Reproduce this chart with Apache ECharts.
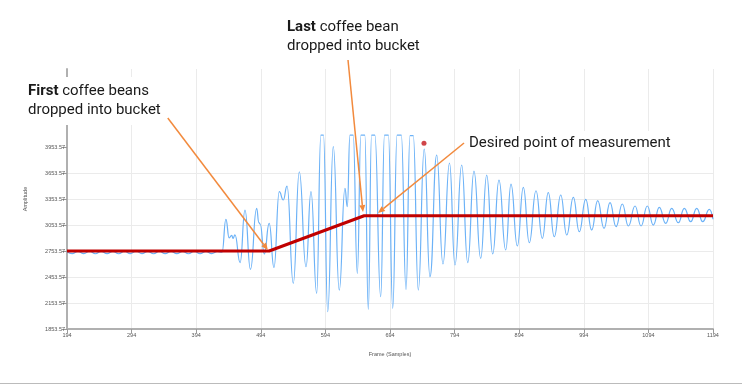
<!DOCTYPE html>
<html><head><meta charset="utf-8">
<script src="https://cdn.jsdelivr.net/npm/echarts@6/dist/echarts.min.js"></script>
<style>html,body{margin:0;padding:0;background:#fff}#c{width:742px;height:384px}</style>
</head><body><div id="c"></div>
<script>
// Raw signal: frame positions of readable extrema and their amplitudes
const frames = [
  194,202,211,220,229,238,247,256,265,274,283,292,301,310,319,328,337,346,355,364,373,382,391,400,409,418,427,434,
  440,445,449,451,454,462,469.5,478,487.6,491,493,499.4,507,514.4,522.6,528.8,534.6,544.3,553.6,564,571.7,580.5,
  587,591,597.6,606.2,615.5,624.3,627.9,632,637,643.4,649,655,660.4,665.5,670.5,679.6,685.5,691.5,698.2,705,711.5,
  718.8,725,730,737.8,747,755.9,766.3,776,786.1,794.6,805,814.3,824,834.4,843.7,853,862.7,873.1,881.3,891.1,900.4,
  909.6,920,929.8,939,948.3,958.3,967.6,977.8,987,997,1006.2,1015.5,1025.3,1034.6,1043.9,1053.6,1063,1073.3,1082.6,
  1092.3,1101.6,1110.9,1120.8,1130.1,1140.3,1149.6,1159.5,1168.8,1178.1,1188.3,1194
];
const amplitudes = [
  2745,2724,2750,2723,2752,2722,2750,2724,2749,2722,2751,2723,2752,2724,2750,2722,2751,2723,2750,2724,2749,2722,2751,2723,2750,2724,2748,2740,
  3119,2905,2935,2900,2940,2620,3226,2542,3246,3080,3065,2719,3073,2563,3438,3342,3503,2381,3668,2572,3438,2265,
  4090,4090,2053,3957,2303,3477,3265,4090,4090,2496,4090,4090,2081,4090,4090,2226,4090,4090,2092,4090,4090,
  2311,4085,4085,2303,3930,2457,3861,2604,3769,2592,3746,2619,3676,2669,3630,2719,3572,2765,3526,2811,3488,
  2849,3449,2900,3426,2918,3400,2938,3373,2976,3350,2996,3334,3015,3311,3034,3296,3042,3273,3042,
  3273,3053,3258,3073,3246,3080,3246,3092,3246,3092,3234,3120
];
// Estimated baseline (red) line
const baselineFrames = [194, 507, 654, 1194];
const baselineValues = [2753.57, 2753.57, 3160, 3160];
// Measurement marker
const markerFrame = [746.6];
const markerValue = [3996];
// Axis ticks
const xTickLabels = ['194','294','394','494','594','694','794','894','994','1094','1194'];
const yTickLabels = ['1853.57','2153.57','2453.57','2753.57','3053.57','3353.57','3653.57','3953.57'];
// Annotation arrows (data coordinates)
const arrowFrom = [[350, 4288], [629, 4957], [808.6, 4000]];
const arrowTo   = [[505, 2765], [652.2, 3203], [675.4, 3192]];

const yLabelVals = yTickLabels.map(Number);

const option = {
  animation: false,
  backgroundColor: '#fff',
  grid: { left: 67, right: 29, top: 69, bottom: 55, containLabel: false },
  xAxis: {
    type: 'value', min: 194, max: 1194, interval: 100,
    name: 'Frame (Samples)', nameLocation: 'middle', nameGap: 22,
    nameTextStyle: { fontSize: 5.5, color: '#555', fontFamily: 'Liberation Sans' },
    axisLine: { show: true, lineStyle: { color: '#b0b0b0', width: 2 } },
    axisTick: { show: true, length: 4, lineStyle: { color: '#999' } },
    axisLabel: { fontSize: 5.5, color: '#555', margin: 3, fontFamily: 'Liberation Sans',
      formatter: v => xTickLabels.includes(String(Math.round(v))) ? String(Math.round(v)) : '' },
    splitLine: { show: true, lineStyle: { color: '#ebebeb', width: 1 } }
  },
  yAxis: {
    type: 'value', min: 1853.57, max: 4853.57, interval: 300,
    name: 'Amplitude', nameLocation: 'middle', nameGap: 39, nameRotate: 90,
    nameTextStyle: { fontSize: 5.5, color: '#555', fontFamily: 'Liberation Sans' },
    axisLine: { show: true, lineStyle: { color: '#b0b0b0', width: 2 } },
    axisTick: { show: true, length: 5, lineStyle: { color: '#999' }, customValues: yLabelVals },
    axisLabel: { fontSize: 5.5, color: '#555', margin: 2, fontFamily: 'Liberation Sans', customValues: yLabelVals,
      formatter: v => (v <= 3954 ? v.toFixed(2) : '') },
    splitLine: { show: true, showMaxLine: false, lineStyle: { color: '#ebebeb', width: 1 } }
  },
  series: [
    {
      type: 'line', name: 'signal',
      data: frames.map((f, i) => [f, amplitudes[i]]),
      showSymbol: false, smooth: 0.5, smoothMonotone: 'x',
      lineStyle: { color: '#6cb2f7', width: 1.2 }, z: 2
    },
    {
      type: 'line', name: 'baseline',
      data: baselineFrames.map((f, i) => [f, baselineValues[i]]),
      showSymbol: false, lineStyle: { color: '#c00000', width: 3 }, z: 3
    },
    {
      type: 'scatter', name: 'marker',
      data: markerFrame.map((f, i) => [f, markerValue[i]]),
      symbolSize: 5, itemStyle: { color: '#c4161c' }, z: 4
    }
  ]
};

const chart = echarts.init(document.getElementById('c'));
chart.setOption(option);

const ORANGE = '#f28a3d';
const font = 'Roboto';
const graphics = [
  { type: 'rect', z: 100, shape: { x: 20, y: 77, width: 157, height: 48 }, style: { fill: '#fff' } },
  { type: 'rect', z: 100, shape: { x: 463, y: 131, width: 215, height: 26 }, style: { fill: '#fff' } },
  { type: 'line', z: 100, shape: { x1: 0, y1: 383.5, x2: 742, y2: 383.5 }, style: { stroke: '#bbbbbb', lineWidth: 1 } }
];
for (let i = 0; i < arrowFrom.length; i++) {
  const a = chart.convertToPixel({ gridIndex: 0 }, arrowFrom[i]);
  const b = chart.convertToPixel({ gridIndex: 0 }, arrowTo[i]);
  const dx = b[0] - a[0], dy = b[1] - a[1];
  const len = Math.sqrt(dx * dx + dy * dy);
  const ux = dx / len, uy = dy / len;
  const hl = 7, hw = 3;
  const bx = b[0] - ux * hl, by = b[1] - uy * hl;
  graphics.push({ type: 'line', z: 110, shape: { x1: a[0], y1: a[1], x2: bx, y2: by },
    style: { stroke: ORANGE, lineWidth: 1.5 } });
  graphics.push({ type: 'polygon', z: 110, shape: { points: [[b[0], b[1]], [bx - uy * hw, by + ux * hw], [bx + uy * hw, by - ux * hw]] },
    style: { fill: ORANGE } });
}
const txtStyle = (x, y, text) => ({
  type: 'text', z: 120,
  style: {
    x: x, y: y, text: text, fill: '#1a1a1a', fontSize: 15, fontFamily: font, lineHeight: 19,
    verticalAlign: 'top', align: 'left',
    rich: { b: { fontWeight: 'bold', fontSize: 15, fontFamily: font, fill: '#1a1a1a', lineHeight: 19 } }
  }
});
graphics.push(txtStyle(28, 81.5, '{b|First} coffee beans\ndropped into bucket'));
graphics.push(txtStyle(287, 17.5, '{b|Last} coffee bean\ndropped into bucket'));
graphics.push(txtStyle(469, 133.5, 'Desired point of measurement'));
chart.setOption({ graphic: { elements: graphics } });
</script></body></html>
